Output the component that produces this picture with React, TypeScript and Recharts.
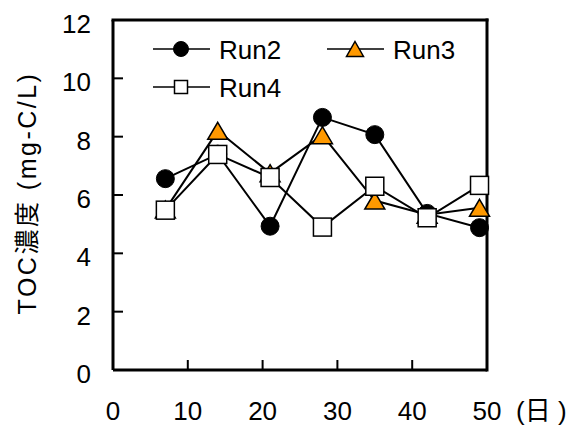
import React from 'react';
import { LineChart, Line, XAxis, YAxis, ReferenceLine, Customized } from 'recharts';

const days = [7, 14, 21, 28, 35, 42, 49];
const run2 = [6.56, 7.4, 4.93, 8.66, 8.07, 5.37, 4.88];
const run3 = [5.5, 8.2, 6.75, 8.05, 5.81, 5.32, 5.56];
const run4 = [5.48, 7.39, 6.6, 4.9, 6.3, 5.22, 6.33];
const xTicks = [0, 10, 20, 30, 40, 50];
const yTicks = [0, 2, 4, 6, 8, 10, 12];
const seriesNames = ['Run2', 'Run3', 'Run4'];
const xUnit = '(日 )';
const yTitle = 'TOC濃度 (mg-C/L)';

const data = days.map((d, i) => ({ day: d, Run2: run2[i], Run3: run3[i], Run4: run4[i] }));

const FONT = '"Liberation Sans", Arial, "Noto Sans CJK JP", sans-serif';
const ORANGE = '#FF9900';
const M = 14;
const FS = 26;

const YTick = (p: any) => {
  const axisX = p.x + M;
  return (
    <g>
      <line x1={axisX} x2={axisX + 10} y1={p.y} y2={p.y} stroke="#000" strokeWidth={2} />
      <text x={axisX - 22} y={p.y + 4} textAnchor="end" dominantBaseline="central" fontSize={FS} fontFamily={FONT} fill="#000">
        {p.payload.value}
      </text>
    </g>
  );
};

const XTick = (p: any) => {
  const axisY = p.y - M;
  const last = p.payload.value === xTicks[xTicks.length - 1];
  return (
    <g>
      <line x1={p.x} x2={p.x} y1={axisY} y2={axisY - 10} stroke="#000" strokeWidth={2} />
      <text x={p.x} y={axisY + 41} textAnchor="middle" dominantBaseline="central" fontSize={FS} fontFamily={FONT} fill="#000">
        {p.payload.value}
      </text>
      {last && (
        <text x={p.x + 29} y={axisY + 41} textAnchor="start" dominantBaseline="central" fontSize={FS} fontFamily={FONT} fill="#000">
          {xUnit}
        </text>
      )}
    </g>
  );
};

const Circle = (p: any, r: number) => <circle key={p.key ?? p.index} cx={p.cx} cy={p.cy} r={r} fill="#000" stroke="#000" strokeWidth={1} />;
const Tri = (p: any, w: number, h: number) => (
  <polygon
    key={p.key ?? p.index}
    points={`${p.cx},${p.cy - h / 2} ${p.cx + w / 2},${p.cy + h / 2} ${p.cx - w / 2},${p.cy + h / 2}`}
    fill={ORANGE}
    stroke="#000"
    strokeWidth={1.5}
    strokeLinejoin="miter"
  />
);
const Sq = (p: any, s: number) => (
  <rect key={p.key ?? p.index} x={p.cx - s / 2} y={p.cy - s / 2} width={s} height={s} fill="#fff" stroke="#000" strokeWidth={1.5} />
);

const LegendG = () => {
  const items = [
    { name: seriesNames[0], x: 153, y: 49, m: (cx: number, cy: number) => Circle({ cx, cy, index: 'l0' }, 7.5) },
    { name: seriesNames[1], x: 327, y: 49, m: (cx: number, cy: number) => Tri({ cx, cy, index: 'l1' }, 17, 15) },
    { name: seriesNames[2], x: 153, y: 87, m: (cx: number, cy: number) => Sq({ cx, cy, index: 'l2' }, 13) },
  ];
  return (
    <g>
      {items.map((it) => (
        <g key={it.name}>
          <line x1={it.x} x2={it.x + 57} y1={it.y} y2={it.y} stroke="#000" strokeWidth={1.5} />
          {it.m(it.x + 28, it.y)}
          <text x={it.x + 66} y={it.y + 1} dominantBaseline="central" fontSize={FS} fontFamily={FONT} fill="#000">
            {it.name}
          </text>
        </g>
      ))}
    </g>
  );
};

const YTitle = () => (
  <text
    transform="translate(27,193) rotate(-90)"
    textAnchor="middle"
    dominantBaseline="central"
    fontSize={25}
    letterSpacing={2.5}
    fontFamily={FONT}
    fill="#000"
  >
    {yTitle}
  </text>
);

export default function App() {
  return (
    <div style={{ position: 'absolute', left: 0, top: 0, width: 570, height: 425, background: '#fff' }}>
      <LineChart width={570} height={425} data={data} margin={{ top: 20, right: 83, bottom: 0, left: 0 }}>
        <XAxis
          dataKey="day"
          type="number"
          domain={[0, 50]}
          ticks={xTicks}
          interval={0}
          height={55}
          tickSize={0}
          tickMargin={M}
          tickLine={false}
          axisLine={{ stroke: '#000', strokeWidth: 3 }}
          tick={<XTick />}
        />
        <YAxis
          type="number"
          domain={[0, 12]}
          ticks={yTicks}
          interval={0}
          width={113}
          tickSize={0}
          tickMargin={M}
          tickLine={false}
          axisLine={{ stroke: '#000', strokeWidth: 3 }}
          tick={<YTick />}
        />
        <ReferenceLine y={12} stroke="#000" strokeWidth={3} strokeLinecap="square" />
        <ReferenceLine x={50} stroke="#000" strokeWidth={3} strokeLinecap="square" />
        <Line dataKey="Run2" stroke="#000" strokeWidth={2} isAnimationActive={false} dot={(p: any) => Circle(p, 9)} activeDot={false} />
        <Line dataKey="Run3" stroke="#000" strokeWidth={2} isAnimationActive={false} dot={(p: any) => Tri(p, 20, 17)} activeDot={false} />
        <Line dataKey="Run4" stroke="#000" strokeWidth={2} isAnimationActive={false} dot={(p: any) => Sq(p, 18)} activeDot={false} />
        <Customized component={LegendG} />
        <Customized component={YTitle} />
      </LineChart>
    </div>
  );
}
